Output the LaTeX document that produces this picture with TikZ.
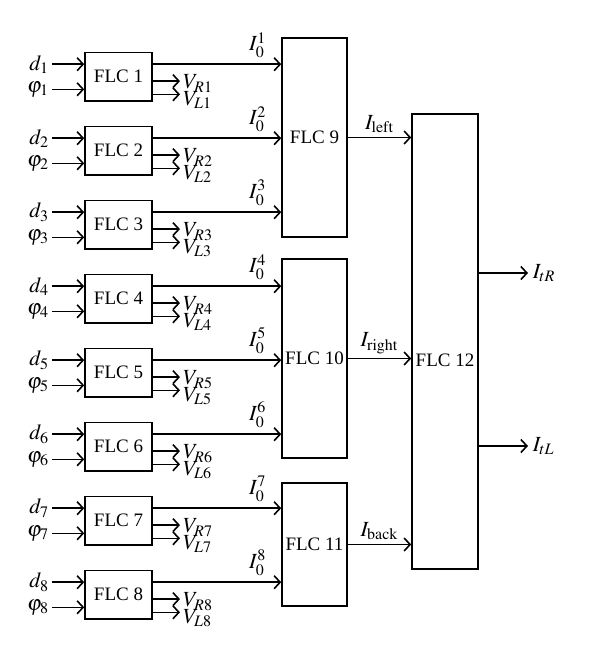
\documentclass[tikz,border=0pt]{standalone}
\usepackage{mathptmx}
\usepackage{fontspec}
\setmainfont{Liberation Serif}
\usetikzlibrary{arrows.meta,positioning}

\begin{document}
\begin{tikzpicture}[
    x=0.5pt, y=-0.5pt,
    line width=0.8pt,
    >={Straight Barb[length=3pt,width=6.5pt]},
    every node/.style={font=\fontsize{10.8pt}{12pt}\selectfont},
    flc/.style={draw, minimum width=33.5pt, minimum height=24.2pt, inner sep=0pt,
      font=\fontsize{9.5pt}{11pt}\selectfont},
    bigflc/.style={flc, minimum width=32.5pt},
    inlabel/.style={anchor=east, inner sep=1pt},
    vlabel/.style={right, inner sep=1.2pt}
  ]
  \useasboundingbox (0,0) rectangle (589,660);
  % second and third layer
  \node[bigflc, minimum height=99.5pt] (flc9) at (314.5,137.5) {FLC 9};
  \node[bigflc, minimum height=99.5pt] (flc10) at (314.5,358.5) {FLC 10};
  \node[bigflc, minimum height=61.5pt] (flc11) at (314.5,544.5) {FLC 11};
  \node[bigflc, minimum width=33pt, minimum height=227.5pt,
    label={[yshift=-9.5pt, font=\fontsize{9.5pt}{11pt}\selectfont]center:FLC 12}] (flc12) at (445,341.5) {};
  \draw[->] (flc9) -- (flc9 -| flc12.west) node[midway, above, inner sep=2pt] {$I_{\mathrm{left}}$};
  \draw[->] (flc10) -- (flc10 -| flc12.west) node[midway, above, inner sep=2pt] {$I_{\mathrm{right}}$};
  \draw[->] (flc11) -- (flc11 -| flc12.west) node[midway, above, inner sep=2pt] {$I_{\mathrm{back}}$};
  \coordinate (itr) at (528,273);
  \coordinate (itl) at (528,446);
  \draw[->] (flc12.east |- itr) -- (itr) node[right, inner sep=2pt] {$I_{tR}$};
  \draw[->] (flc12.east |- itl) -- (itl) node[right, inner sep=2pt] {$I_{tL}$};
  % first layer
  \foreach \k/\t in {1/9,2/9,3/9,4/10,5/10,6/10,7/11,8/11} {
    \pgfmathsetmacro\yc{76.5+74*(\k-1)}
    \node[flc] (flc\k) at (118.5,\yc) {FLC \k};
    \node[inlabel] (d\k) at (52,{\yc-12.3}) {$d_\k$};
    \node[inlabel] (p\k) at (52,{\yc+12.8}) {$\varphi_\k$};
    \coordinate (vr\k) at (180,{\yc+4.6});
    \coordinate (vl\k) at (180,{\yc+17.8});
    \draw[->] (d\k) -- (d\k -| flc\k.west);
    \draw[->] (p\k) -- (p\k -| flc\k.west);
    \draw[->] (flc\k.east |- vr\k) -- (vr\k) node[vlabel, yshift=-1.2pt] {$V_{R\k}$};
    \draw[->] (flc\k.east |- vl\k) -- (vl\k) node[vlabel, yshift=-3pt] {$V_{L\k}$};
    \draw[->] (flc\k.east |- d\k) -- (flc\t.west |- d\k)
      node[inner sep=0pt, above left=3pt and 7pt] {$I_0^\k$};
  }
\end{tikzpicture}
\end{document}
